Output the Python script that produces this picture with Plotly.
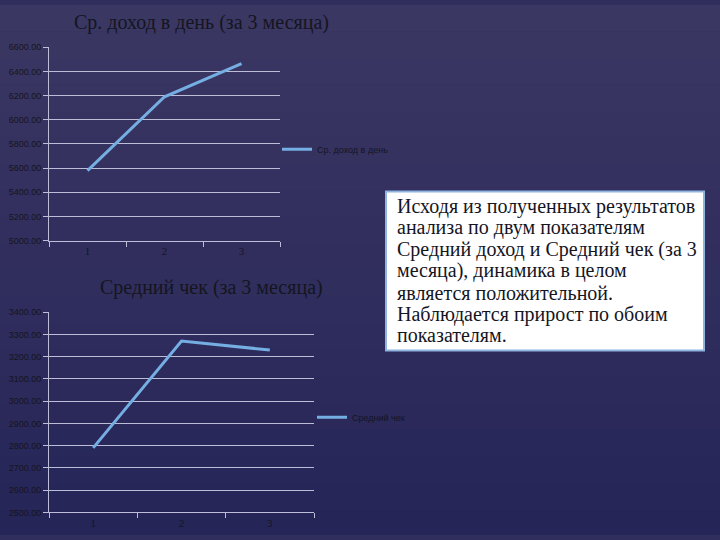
import plotly.graph_objects as go

months = ["1", "2", "3"]
income = [5578, 6190, 6465]
avg_check = [2790, 3270, 3230]

title1 = "Ср. доход в день (за 3 месяца)"
title2 = "Средний чек (за 3 месяца)"
legend1 = "Ср. доход в день"
legend2 = "Средний чек"
box_lines = [
    "Исходя из полученных результатов",
    "анализа по двум показателям",
    "Средний доход и Средний чек (за 3",
    "месяца), динамика в целом",
    "является положительной.",
    "Наблюдается прирост по обоим",
    "показателям.",
]

W, H = 720, 540
def px(x): return x / W
def py(y): return 1 - y / H

LINE = "#74aee2"
GRID = "#bdbdd8"
DARK = "#15151f"
SERIF = "Liberation Serif"
SANS = "Liberation Sans"

fig = go.Figure()
fig.add_trace(go.Scatter(x=months, y=income, mode="lines", name=legend1,
                         line=dict(color=LINE, width=3), xaxis="x", yaxis="y",
                         legend="legend"))
fig.add_trace(go.Scatter(x=months, y=avg_check, mode="lines", name=legend2,
                         line=dict(color=LINE, width=3), xaxis="x2", yaxis="y2",
                         legend="legend2"))

# background gradient bands
shapes = []
top = (59, 55, 99)
bot = (38, 37, 88)
n = 20
for i in range(n):
    t = i / (n - 1)
    c = tuple(int(round(top[k] + (bot[k] - top[k]) * t)) for k in range(3))
    shapes.append(dict(type="rect", xref="paper", yref="paper",
                       x0=0, x1=1, y0=1 - (i + 1) / n, y1=1 - i / n,
                       fillcolor="rgb(%d,%d,%d)" % c, line=dict(width=0),
                       layer="below"))
# text box
shapes.append(dict(type="rect", xref="paper", yref="paper",
                   x0=px(386), x1=px(704), y0=py(352), y1=py(190),
                   fillcolor="white", line=dict(color="#8fb4e0", width=2),
                   layer="above"))

axis_common = dict(showline=True, linecolor=GRID, linewidth=1,
                   ticks="outside", tickcolor=GRID, ticklen=5,
                   zeroline=False)

annotations = [
    dict(text=title1, xref="paper", yref="paper", x=px(201), y=py(18),
         xanchor="center", yanchor="middle", showarrow=False,
         font=dict(family=SERIF, size=20, color=DARK)),
    dict(text=title2, xref="paper", yref="paper", x=px(211), y=py(288),
         xanchor="center", yanchor="middle", showarrow=False,
         font=dict(family=SERIF, size=20, color=DARK)),
]
line_y = [205, 227, 249, 271, 293, 315, 336]
for txt, yy in zip(box_lines, line_y):
    annotations.append(dict(text=txt, xref="paper", yref="paper",
                            x=px(395), y=py(yy), xanchor="left",
                            yanchor="middle", showarrow=False,
                            font=dict(family=SERIF, size=20, color=DARK)))

fig.update_layout(
    width=W, height=H, margin=dict(l=0, r=0, t=0, b=0),
    paper_bgcolor="rgb(48,46,92)", plot_bgcolor="rgba(0,0,0,0)",
    shapes=shapes,
    xaxis=dict(domain=[px(49), px(280)], anchor="y", type="category",
               range=[-0.5, 2.5], tickson="boundaries", showgrid=False,
               tickfont=dict(family=SERIF, size=11, color=DARK), **axis_common),
    yaxis=dict(domain=[py(240), py(43)], anchor="x", range=[5000, 6600],
               dtick=200, tickformat=".2f", showgrid=True, gridcolor=GRID,
               gridwidth=1, tickfont=dict(family=SANS, size=9, color=DARK),
               **axis_common),
    xaxis2=dict(domain=[px(49), px(314)], anchor="y2", type="category",
                range=[-0.5, 2.5], tickson="boundaries", showgrid=False,
                tickfont=dict(family=SERIF, size=11, color=DARK), **axis_common),
    yaxis2=dict(domain=[py(517), py(313)], anchor="x2", range=[2500, 3400],
                dtick=100, tickformat=".2f", showgrid=True, gridcolor=GRID,
                gridwidth=1, tickfont=dict(family=SANS, size=9, color=DARK),
                **axis_common),
    legend=dict(x=px(277), y=py(147), xanchor="left", yanchor="middle",
                bgcolor="rgba(0,0,0,0)", itemwidth=30,
                font=dict(family=SANS, size=9, color=DARK)),
    legend2=dict(x=px(312), y=py(420), xanchor="left", yanchor="middle",
                 bgcolor="rgba(0,0,0,0)", itemwidth=30,
                 font=dict(family=SANS, size=9, color=DARK)),
    showlegend=True,
    annotations=annotations,
)

fig.write_html("out.html", config={"displayModeBar": False},
               post_script="document.body.style.margin='0';document.body.style.padding='0';document.body.style.overflow='hidden';")
